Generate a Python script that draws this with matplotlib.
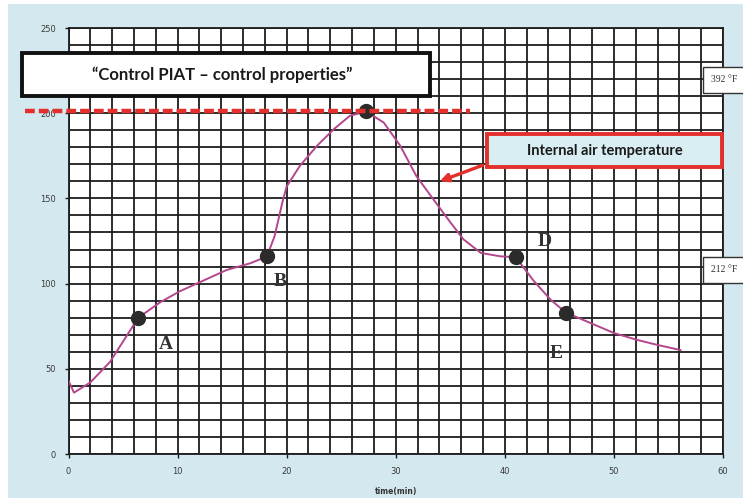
import numpy as np
import matplotlib
matplotlib.use("Agg")
import matplotlib.pyplot as plt
from matplotlib.patches import Rectangle

# Data
time_min = [0.0, 0.5, 2.0, 3.8, 5.3, 6.4, 8.4, 10.2, 12.1, 14.5, 16.7, 18.2,
            18.9, 19.6, 20.0, 21.2, 22.8, 24.3, 25.8, 27.3, 28.9, 30.4, 31.9,
            33.5, 35.0, 36.2, 37.8, 39.6, 41.0, 42.6, 44.2, 45.6, 47.8, 50.0,
            52.1, 54.0, 56.1]
air_temp = [43, 36, 42, 54, 69, 80, 89, 95.5, 101, 108, 112, 116,
            128, 147.5, 157, 169, 181, 190.5, 198.5, 201, 194.5, 181, 163,
            149, 136, 126, 118, 116, 115.5, 102, 90.5, 83, 77, 71,
            67, 64, 61]

point_names = ["A", "B", "C", "D", "E"]
point_time = [6.4, 18.2, 27.3, 41.0, 45.6]
point_temp = [80, 116, 201, 115.5, 83]

letter_names = ["A", "B", "D", "E"]
letter_time = [8.9, 19.4, 43.7, 44.7]
letter_temp = [64, 101, 125, 59]

control_temp = 201
control_span = [-4.0, 36.8]

x_ticks = [0, 10, 20, 30, 40, 50, 60]
y_ticks = [0, 50, 100, 150, 200, 250]

W, H = 743, 503


def px(x, y):
    # pixel position (from top-left) -> figure fraction
    return x / W, 1 - y / H


BG = "#d4e9ef"
CURVE = "#b3468c"
RED = "#e3302d"
GRID = "#1c1c1c"

fig = plt.figure(figsize=(W / 100, H / 100), dpi=100)
fig.patch.set_facecolor("white")
bx, by = px(8, 498)
fig.add_artist(Rectangle((bx, by), 1 - bx, 1 - 4 / H - by, transform=fig.transFigure,
                         facecolor=BG, edgecolor="none", zorder=-5))

l, b = px(68.5, 454)
r, t = px(723, 28)
ax = fig.add_axes([l, b, r - l, t - b])
ax.set_facecolor("white")
ax.set_xlim(0, 60)
ax.set_ylim(0, 250)
ax.set_xticks(x_ticks)
ax.set_xticks(np.arange(0, 61, 2), minor=True)
ax.set_yticks(y_ticks)
ax.set_yticks(np.arange(0, 251, 10), minor=True)
ax.grid(which="both", color=GRID, lw=1.3)
ax.set_axisbelow(True)
ax.tick_params(which="minor", length=0)
ax.tick_params(which="major", length=3, width=1, color=GRID, labelsize=6,
               labelcolor="#3a3a3a", pad=6)
for s in ax.spines.values():
    s.set_color(GRID)
    s.set_linewidth(1.3)
ax.set_xlabel("time(min)", fontsize=5.5, fontweight="bold", color="#333333", labelpad=8)

# temperature curve and marked points
ax.plot(time_min, air_temp, color=CURVE, lw=1.4, zorder=3)
ax.plot(point_time, point_temp, "o", color="#2b2b2b", ms=10, zorder=4)
for name, xt, yt in zip(letter_names, letter_time, letter_temp):
    ax.text(xt, yt, name, fontsize=14, fontweight="bold", family="Liberation Serif",
            color="#333333", ha="center", va="center", zorder=5)

# control temperature line
ax.plot(control_span, [control_temp, control_temp], color=RED, lw=3.2,
        dashes=(2.2, 0.9), clip_on=False, zorder=6)

# arrow to the curve
ax.annotate("", xy=(33.8, 159.5), xytext=(38.2, 170),
            arrowprops=dict(arrowstyle="-|>", color=RED, lw=2.4, mutation_scale=12),
            zorder=6)

# title box
x0, y0 = px(22, 96)
x1, y1 = px(430, 53)
fig.add_artist(Rectangle((x0, y0), x1 - x0, y1 - y0, transform=fig.transFigure,
                         facecolor="white", edgecolor="#111111", lw=2.8, zorder=10))
fig.text(*px(222, 75), "\u201cControl PIAT \u2013 control properties\u201d",
         fontsize=12, fontweight="bold", family="Lato", color="#1a1a1a",
         ha="center", va="center", zorder=11)

# internal air temperature box
x0, y0 = px(487, 167)
x1, y1 = px(722, 134)
fig.add_artist(Rectangle((x0, y0), x1 - x0, y1 - y0, transform=fig.transFigure,
                         facecolor="#d9eef3", edgecolor=RED, lw=2.8, zorder=10))
fig.text(*px(605, 151), "Internal air temperature", fontsize=10.5, fontweight="bold",
         family="Lato", color="#1a1a1a", ha="center", va="center", zorder=11)

# side temperature boxes (cut by the picture edge)
for label, ytop, ybot in [("392 \u00b0F", 67, 93), ("212 \u00b0F", 257, 283)]:
    x0, y0 = px(703, ybot)
    x1, y1 = px(760, ytop)
    fig.add_artist(Rectangle((x0, y0), x1 - x0, y1 - y0, transform=fig.transFigure,
                             facecolor="white", edgecolor="#333333", lw=1.0, zorder=10))
    fig.text(*px(711, (ytop + ybot) / 2), label, fontsize=7, family="Liberation Serif",
             color="#333333", ha="left", va="center", zorder=11)

fig.savefig("out.png", dpi=100)
